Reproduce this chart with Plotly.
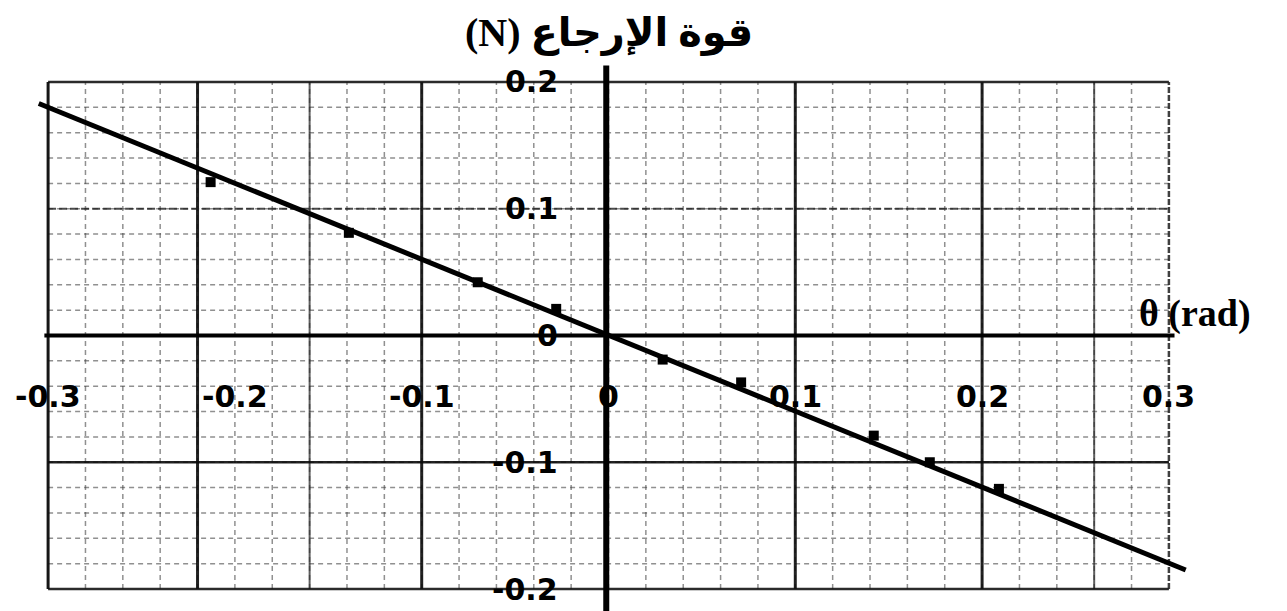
import numpy as np
import plotly.graph_objects as go

# Measured restoring force (N) against angular displacement (rad)
theta_pts = [-0.213, -0.139, -0.070, -0.028, 0.029, 0.071, 0.142, 0.172, 0.209]
force_pts = [0.121, 0.081, 0.042, 0.021, -0.019, -0.037, -0.079, -0.100, -0.121]

# Straight line drawn through the measurements
theta_fit = [-0.305, 0.309]
force_fit = [0.183, -0.185]

# Graduation labels on both axes
x_tick_vals = [-0.3, -0.2, -0.1, 0.0, 0.1, 0.2, 0.3]
x_tick_text = ["-0.3", "-0.2", "-0.1", "0", "0.1", "0.2", "0.3"]
y_tick_vals = [0.2, 0.1, 0.0, -0.1, -0.2]
y_tick_text = ["0.2", "0.1", "0", "-0.1", "-0.2"]

W, H = 1287, 611
X0, X1 = -0.3, 0.3      # graph-paper frame
Y0, Y1 = -0.2, 0.2

shapes = []

def vline(x, y0, y1, color, width, dash="solid"):
    shapes.append(dict(type="line", xref="x", yref="y", x0=x, x1=x, y0=y0, y1=y1,
                       line=dict(color=color, width=width, dash=dash), layer="below"))

def hline(y, x0, x1, color, width, dash="solid"):
    shapes.append(dict(type="line", xref="x", yref="y", x0=x0, x1=x1, y0=y, y1=y,
                       line=dict(color=color, width=width, dash=dash), layer="below"))

# minor graph-paper rulings every 0.02
minor_col = "rgba(70,70,70,0.6)"
for gx in np.arange(X0 + 0.02, X1 - 0.001, 0.02):
    vline(round(gx, 3), Y0, Y1, minor_col, 1.5, "5px,4px")
for gy in np.arange(Y0 + 0.02, Y1 - 0.001, 0.02):
    hline(round(gy, 3), X0, X1, minor_col, 1.5, "5px,4px")

# heavier rulings of the paper
for gx in [-0.22, -0.1, 0.1, 0.2]:
    vline(gx, Y0, Y1, "rgba(10,10,10,0.9)", 3)
for gx in [-0.16, 0.26]:
    vline(gx, Y0, Y1, "rgba(40,40,40,0.75)", 2)
for gy in [-0.1]:
    hline(gy, X0, X1, "rgba(10,10,10,0.9)", 2.5)
for gy in [0.1]:
    hline(gy, X0, X1, "rgba(30,30,30,0.8)", 2, "8px,3px")

# frame of the paper
hline(Y1, X0, X1, "rgba(20,20,20,0.9)", 2.5)
hline(Y0, X0, X1, "rgba(20,20,20,0.9)", 2.5)
vline(X0, Y0, Y1, "rgba(10,10,10,0.95)", 3)
vline(X1, Y0, Y1, "rgba(30,30,30,0.85)", 2.5, "6px,2px")

# coordinate axes
hline(0.0, -0.302, 0.303, "black", 4)
vline(-0.0012, -0.22, 0.213, "black", 6)

fig = go.Figure()
fig.add_trace(go.Scatter(x=theta_fit, y=force_fit, mode="lines",
                         line=dict(color="black", width=5), hoverinfo="skip"))
fig.add_trace(go.Scatter(x=theta_pts, y=force_pts, mode="markers",
                         marker=dict(color="black", size=10, symbol="square"),
                         hoverinfo="skip"))

annotations = []
tick_font = dict(family="DejaVu Sans", size=30, color="black", weight="bold")
for v, t in zip(x_tick_vals, x_tick_text):
    annotations.append(dict(x=v, y=-0.0485, text=t, showarrow=False,
                            xanchor="center", yanchor="middle", font=tick_font))
for v, t in zip(y_tick_vals, y_tick_text):
    annotations.append(dict(x=-0.026, y=v, text=t, showarrow=False,
                            xanchor="right", yanchor="middle", font=tick_font))

annotations.append(dict(x=0.0, y=0.2387, text="(N) قوة الإرجاع", showarrow=False,
                        xanchor="center", yanchor="middle",
                        font=dict(family="Liberation Serif, DejaVu Sans", size=40,
                                  color="black", weight="bold")))
annotations.append(dict(x=0.314, y=0.0177, text="θ (rad)", showarrow=False,
                        xanchor="center", yanchor="middle",
                        font=dict(family="Liberation Serif, DejaVu Serif", size=38,
                                  color="black", weight="bold")))

fig.update_layout(
    width=W, height=H,
    margin=dict(l=0, r=0, t=0, b=0),
    paper_bgcolor="white", plot_bgcolor="white",
    showlegend=False,
    xaxis=dict(range=[-0.32575, 0.36322], visible=False, fixedrange=True),
    yaxis=dict(range=[-0.21736, 0.26469], visible=False, fixedrange=True),
    shapes=shapes,
    annotations=annotations,
)

fig.write_html("out.html")
